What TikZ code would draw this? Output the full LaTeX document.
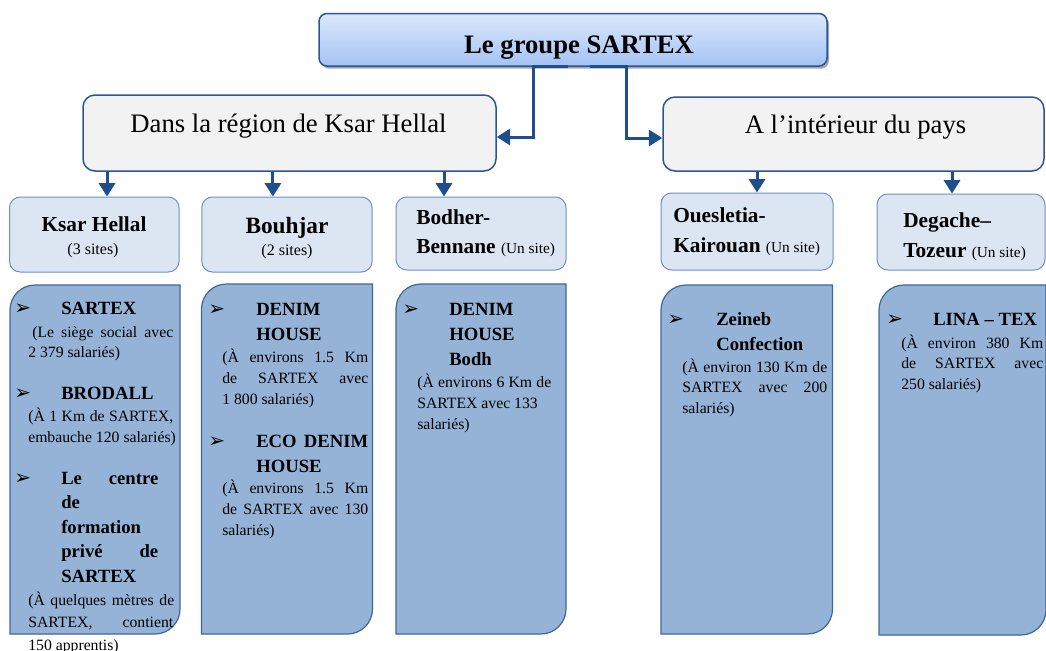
\documentclass[tikz,border=0pt]{standalone}
\usepackage{fontspec}
\setmainfont{Liberation Serif}
\newfontfamily\dingfont{DejaVu Sans}
\usetikzlibrary{arrows.meta,positioning,shadows}
\definecolor{linkblue}{HTML}{1F4E8C}
\definecolor{topfillA}{HTML}{DCE8FB}
\definecolor{topfillB}{HTML}{A4C3F4}
\definecolor{regionfill}{HTML}{F2F2F2}
\definecolor{regionline}{HTML}{2F5597}
\definecolor{sitefill}{HTML}{DCE6F2}
\definecolor{siteline}{HTML}{6F8FC0}
\definecolor{listfill}{HTML}{95B3D7}
\definecolor{listline}{HTML}{3F669C}
\newdimen\px \px=0.75pt
\newcommand\fsz[1]{\fontsize{#1pt}{#1pt}\selectfont}
\newcommand\jst[2]{\makebox[#1\px][s]{#2}}
% list box: rounded top left and bottom right corners
\newcommand\listbox[4]{\draw[listbox] (#1,#4) -- (#1,{#2+25})
  .. controls (#1,{#2+11.2}) and ({#1+11.2},#2) .. ({#1+25},#2) -- (#3,#2)
  -- (#3,{#4-25}) .. controls (#3,{#4-11.2}) and ({#3-11.2},#4) .. ({#3-25},#4) -- cycle;}

\begin{document}
\begin{tikzpicture}[
  x=0.75pt,y=-0.75pt,
  topbox/.style={draw=regionline,line width=1.5\px,rounded corners=6pt,
    top color=topfillA,bottom color=topfillB,inner sep=0pt,
    drop shadow={shadow xshift=1.5pt,shadow yshift=-2pt,opacity=0.35,fill=black}},
  regionbox/.style={draw=regionline,line width=1.5\px,fill=regionfill,rounded corners=9pt,inner sep=0pt},
  sitebox/.style={draw=siteline,line width=1\px,fill=sitefill,rounded corners=8pt,inner sep=0pt},
  listbox/.style={draw=listline,line width=1.2\px,fill=listfill},
  link/.style={linkblue,line width=3\px,-{Triangle[width=12pt,length=10pt]}},
  txt/.style={inner sep=0pt,anchor=base},
  ltxt/.style={inner sep=0pt,anchor=base west},
  bullet/.style={ltxt,font=\dingfont\fsz{15}},
  item/.style={ltxt,font=\bfseries\fsz{14}},
  desc/.style={ltxt,font=\fsz{11.8}}
]
\useasboundingbox (0,0) rectangle (1046,650);

% boxes
\node[topbox,minimum width=508\px,minimum height=52.5\px] (Groupe) at (573,39.75) {};
\node[regionbox,minimum width=413\px,minimum height=76\px] (RegionKH) at (289.5,133) {};
\node[regionbox,minimum width=381\px,minimum height=74\px] (Interieur) at (853.5,134) {};

\node[sitebox,minimum width=169.5\px,minimum height=75\px] (SKsar) at (94.25,234.5) {};
\node[sitebox,minimum width=170.3\px,minimum height=75\px] (SBouhjar) at (286.9,234.5) {};
\node[sitebox,minimum width=170\px,minimum height=73\px] (SBodher) at (481,233.5) {};
\node[sitebox,minimum width=172\px,minimum height=77\px] (SOueslet) at (747,231.5) {};
\node[sitebox,minimum width=168\px,minimum height=76\px] (SDegache) at (961,232) {};

\listbox{10}{285}{180}{634}
\listbox{201.5}{284}{372.5}{634}
\listbox{396}{284}{566}{634}
\listbox{661}{285}{832.5}{634}
\listbox{879}{285}{1046}{635}

% connectors
\draw[link] ([xshift=-5\px]Groupe.south) -- ++(-35,0) |- ([yshift=-4\px]RegionKH.east);
\draw[link] ([xshift=17\px]Groupe.south) -- ++(36,0) |- ([yshift=-4\px]Interieur.west);
\draw[link] ([xshift=12.75\px]SKsar.north |- RegionKH.south) -- ([xshift=12.75\px]SKsar.north);
\draw[link] ([xshift=-14\px]SBouhjar.north |- RegionKH.south) -- ([xshift=-14\px]SBouhjar.north);
\draw[link] ([xshift=-37\px]SBodher.north |- RegionKH.south) -- ([xshift=-37\px]SBodher.north);
\draw[link] ([xshift=10\px]SOueslet.north |- Interieur.south) -- ([xshift=10\px]SOueslet.north);
\draw[link] ([xshift=-9\px]SDegache.north |- Interieur.south) -- ([xshift=-9\px]SDegache.north);

% titles
\node[txt,font=\bfseries\fsz{20}] (tGroupe) at (579,53) {Le groupe SARTEX};
\node[txt,font=\fsz{20}] (tRegionKH) at (288.5,132) {Dans la région de Ksar Hellal};
\node[txt,font=\fsz{20}] (tInterieur) at (855.5,133) {A l’intérieur du pays};

\node[txt,font=\bfseries\fsz{16}] (tSKsar) at (94,231) {Ksar Hellal};
\node[txt,font=\fsz{12}] (tSKsar2) at (93,254) {(3 sites)};
\node[txt,font=\bfseries\fsz{17.5}] (tSBouhjar) at (287,233) {Bouhjar};
\node[txt,font=\fsz{12}] (tSBouhjar2) at (287,255) {(2 sites)};
\node[ltxt,font=\bfseries\fsz{16}] (tSBodher) at (416,224) {Bodher-};
\node[ltxt,font=\bfseries\fsz{16}] (tSBodher2) at (416,253) {Bennane {\mdseries\fsz{11.5}(Un site)}};
\node[ltxt,font=\bfseries\fsz{16}] (tSOueslet) at (673,222) {Ouesletia-};
\node[ltxt,font=\bfseries\fsz{16}] (tSOueslet2) at (673,252) {Kairouan {\mdseries\fsz{11.5}(Un site)}};
\node[ltxt,font=\bfseries\fsz{16}] (tSDegache) at (903,227) {Degache–};
\node[ltxt,font=\bfseries\fsz{16}] (tSDegache2) at (903,257) {Tozeur {\mdseries\fsz{11.5}(Un site)}};

% Ksar Hellal list
\node[bullet] (b11) at (14,314) {➢};
\node[item] (i11) at (61,314) {SARTEX};
\node[desc] (d11a) at (32,337) {\jst{141}{(Le siège social avec}};
\node[desc] (d11b) at (28,357) {2 379 salariés)};
\node[bullet] (b12) at (14,399) {➢};
\node[item] (i12) at (61,399) {BRODALL};
\node[desc] (d12a) at (28,421) {\jst{145}{(À 1 Km de SARTEX,}};
\node[desc] (d12b) at (28,442) {embauche 120 salariés)};
\node[bullet] (b13) at (14,484) {➢};
\foreach \t [count=\i from 0] in {\jst{97}{Le centre},de,formation,\jst{97}{privé de},SARTEX}
  \node[item] (i13-\i) at (61,{484+24.5*\i}) {\t};
\foreach \t [count=\i from 0] in {\jst{146}{(À quelques mètres de},\jst{145}{SARTEX, contient},150 apprentis)}
  \node[desc] (d13-\i) at (28,{605+22.5*\i}) {\t};

% Bouhjar list
\node[bullet] (b21) at (208,315) {➢};
\node[item] (i21a) at (256,315) {DENIM};
\node[item] (i21b) at (256,340) {HOUSE};
\foreach \t [count=\i from 0] in {\jst{146}{(À environs 1.5 Km},\jst{146}{de SARTEX avec},1 800 salariés)}
  \node[desc] (d21-\i) at (222,{362+21*\i}) {\t};
\node[bullet] (b22) at (208,447) {➢};
\node[item] (i22a) at (256,447) {\jst{112}{ECO DENIM}};
\node[item] (i22b) at (256,472) {HOUSE};
\foreach \t [count=\i from 0] in {\jst{146}{(À environs 1.5 Km},\jst{146}{de SARTEX avec 130},salariés)}
  \node[desc] (d22-\i) at (222,{493+21*\i}) {\t};

% Bodher list
\node[bullet] (b31) at (402,315) {➢};
\foreach \t [count=\i from 0] in {DENIM,HOUSE,Bodh}
  \node[item] (i31-\i) at (449,{315+25*\i}) {\t};
\foreach \t [count=\i from 0] in {\jst{134}{(À environs 6 Km de},SARTEX avec 133,salariés)}
  \node[desc] (d31-\i) at (417,{387+21*\i}) {\t};

% Oueslatia list
\node[bullet] (b41) at (667,325) {➢};
\node[item] (i41a) at (716,325) {Zeineb};
\node[item] (i41b) at (716,350) {Confection};
\foreach \t [count=\i from 0] in {\jst{145}{(À environ 130 Km de},\jst{145}{SARTEX avec 200},salariés)}
  \node[desc] (d41-\i) at (682,{372+20.5*\i}) {\t};

% Degache list
\node[bullet] (b51) at (886,325) {➢};
\node[item] (i51) at (933,325) {LINA – TEX};
\foreach \t [count=\i from 0] in {\jst{142}{(À environ 380 Km},\jst{142}{de SARTEX avec},250 salariés)}
  \node[desc] (d51-\i) at (901,{348+20.5*\i}) {\t};
\end{tikzpicture}
\end{document}
